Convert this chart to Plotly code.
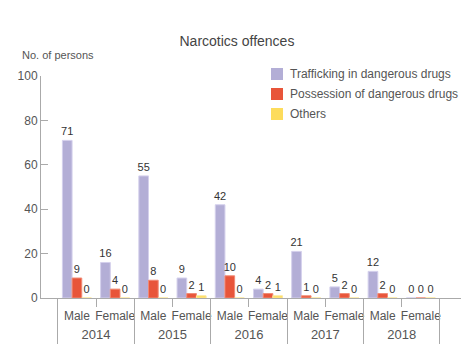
import plotly.graph_objects as go

year_list = ["2014", "2015", "2016", "2017", "2018"]
sex_list = ["Male", "Female"]
years = [y for y in year_list for _ in sex_list]
sexes = sex_list * len(year_list)
trafficking = [71, 16, 55, 9, 42, 4, 21, 5, 12, 0]
possession = [9, 4, 8, 2, 10, 2, 1, 2, 2, 0]
others = [0, 0, 0, 1, 0, 1, 0, 0, 0, 0]
series_names = ["Trafficking in dangerous drugs", "Possession of dangerous drugs", "Others"]
colors = ["#b3aed6", "#e8553a", "#fddc5c"]
line_colors = ["#d4d0ec", "#f08a75", "#fde89a"]

FONT = "Liberation Sans, Arial, sans-serif"
W, H = 461, 353
L, R, T, B = 41, 0, 76, 55
pw, ph = W - L - R, H - T - B
XR = [-0.94, 10.05]  # range in sub-category units


def px_x(x):
    return (x - L) / pw


def px_y(y):
    return (H - B - y) / ph


cats = [f"{y} {s}" for y, s in zip(years, sexes)]

fig = go.Figure()
for name, vals, c, lc in zip(series_names, [trafficking, possession, others], colors, line_colors):
    fig.add_trace(go.Bar(
        x=cats, y=vals, name=name,
        marker=dict(color=c, line=dict(color=lc, width=1)),
        text=[str(v) for v in vals], textposition="outside",
        textfont=dict(family=FONT, size=11, color="#333"),
        cliponaxis=False, showlegend=False,
    ))

# invisible trace carrying the year categories for the outer axis
fig.add_trace(go.Scatter(x=year_list, y=trafficking[::2], xaxis="x2", mode="markers",
                         marker=dict(opacity=0), hoverinfo="skip", showlegend=False))

# legend drawn as squares + labels
for i, (name, c) in enumerate(zip(series_names, colors)):
    yc = 74 + 20 * i
    fig.add_shape(type="rect", xref="paper", yref="paper",
                  x0=px_x(271), x1=px_x(283), y0=px_y(yc - 6), y1=px_y(yc + 6),
                  fillcolor=c, line=dict(width=0))
    fig.add_annotation(text=name, xref="paper", yref="paper",
                       x=px_x(288), y=px_y(yc), xanchor="left", yanchor="middle",
                       showarrow=False, font=dict(family=FONT, size=12, color="#555"))

fig.update_layout(
    width=W, height=H,
    margin=dict(l=L, r=R, t=T, b=B, autoexpand=False),
    paper_bgcolor="white", plot_bgcolor="white",
    barmode="group", bargap=0.24, bargroupgap=0,
    font=dict(family=FONT, size=12, color="#555"),
    title=dict(text="Narcotics offences", x=0.514, xanchor="center",
               y=1 - 41 / H, yanchor="middle",
               font=dict(family=FONT, size=14, color="#444")),
    showlegend=False,
    uniformtext=dict(mode="show", minsize=11),
    xaxis=dict(type="category", range=XR, tickvals=cats, ticktext=sexes,
               tickson="boundaries", ticks="outside", ticklen=8, tickcolor="#aaa",
               ticklabelstandoff=7,
               showgrid=False, showline=True, linecolor="#aaa", zeroline=False,
               tickangle=0, automargin=False,
               tickfont=dict(family=FONT, size=12, color="#555")),
    xaxis2=dict(type="category", overlaying="x", side="bottom", anchor="y",
                range=[(XR[0] - 0.5) / 2, (XR[1] - 0.5) / 2],
                tickson="boundaries", ticks="outside", ticklen=45, tickcolor="#aaa",
                ticklabelstandoff=27, showgrid=False, showline=False, zeroline=False,
                tickangle=0, automargin=False,
                tickfont=dict(family=FONT, size=13, color="#555")),
)
fig.update_yaxes(range=[0, 100], tickvals=[0, 20, 40, 60, 80, 100], automargin=False,
                 showgrid=False, zeroline=False, showline=True, linecolor="#aaa", linewidth=1,
                 ticks="inside", ticklen=7, tickcolor="#aaa",
                 tickfont=dict(family=FONT, size=12, color="#555"))
fig.add_annotation(text="No. of persons", xref="paper", yref="paper",
                   x=px_x(20), y=px_y(55), xanchor="left", yanchor="middle",
                   showarrow=False, font=dict(family=FONT, size=11, color="#555"))
fig.write_html("out.html")
